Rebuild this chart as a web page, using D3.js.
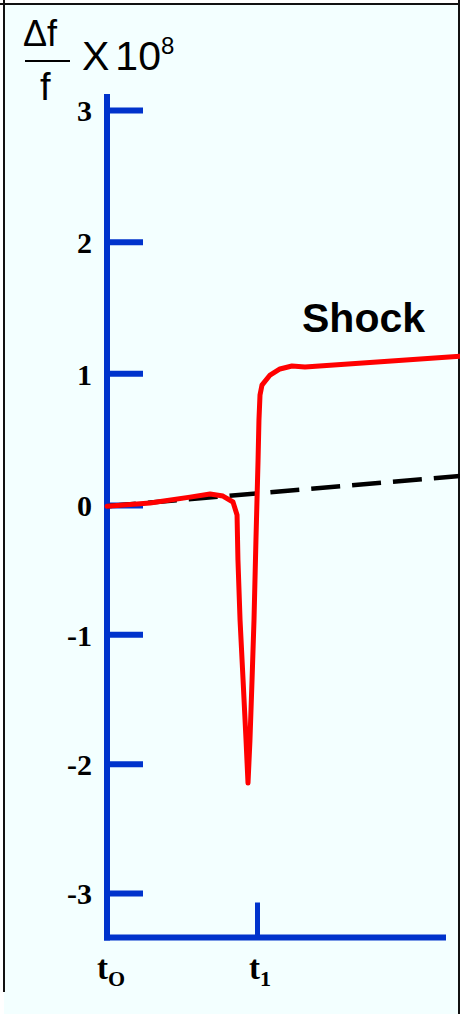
<!DOCTYPE html>
<html><head><meta charset="utf-8">
<script src="https://cdn.jsdelivr.net/npm/d3@7"></script>
<style>html,body{margin:0;padding:0;background:#fff;} svg{display:block}</style>
</head><body><svg id="c" width="460" height="1014"></svg>
<script>
// ---- data ----
const yTicks = [-3, -2, -1, 0, 1, 2, 3];
const xTicks = [0, 1];
const xTickMain = ["t", "t"];
const xTickSub = ["O", "1"];
const shockT = [0, 0.287, 0.553, 0.687, 0.773, 0.84, 0.867, 0.873, 0.887, 0.907, 0.927, 0.94, 0.953, 0.967, 0.98, 0.993, 1.007, 1.013, 1.02, 1.033, 1.087, 1.153, 1.233, 1.32, 2.353];
const shockV = [-0.01, 0.015, 0.06, 0.084, 0.068, 0.023, -0.077, -0.425, -0.89, -1.35, -1.82, -2.15, -1.82, -1.35, -0.89, -0.27, 0.34, 0.645, 0.835, 0.91, 0.987, 1.033, 1.056, 1.048, 1.13];
const driftT = [0, 2.353];
const driftV = [-0.01, 0.22];
const seriesLabel = "Shock";

// ---- layout ----
const W = 460, H = 1014;
const svg = d3.select("#c");
const blue = "#0033cc";

const x = d3.scaleLinear().domain([0, 1]).range([107, 257]);
const y = d3.scaleLinear().domain([-3, 0, 3]).range([893, 505, 110]);

// background + frame
svg.append("rect").attr("x", 0).attr("y", 0).attr("width", W).attr("height", H).attr("fill", "#ffffff");
svg.append("rect").attr("x", 4).attr("y", 4).attr("width", 455).attr("height", H).attr("fill", "#f3ffff");
svg.append("line").attr("x1", 0).attr("x2", W).attr("y1", 4).attr("y2", 4).attr("stroke", "#111").attr("stroke-width", 2);
svg.append("line").attr("x1", 4).attr("x2", 4).attr("y1", 0).attr("y2", 992).attr("stroke", "#111").attr("stroke-width", 2);
svg.append("line").attr("x1", 459).attr("x2", 459).attr("y1", 0).attr("y2", H).attr("stroke", "#111").attr("stroke-width", 2);

// y axis ticks (to the right)
const gyT = svg.append("g").attr("transform", `translate(${x(0)},0)`)
  .call(d3.axisRight(y).tickValues(yTicks).tickSize(36).tickSizeOuter(0).tickFormat(""));
gyT.select(".domain").remove();
gyT.selectAll(".tick line").attr("stroke", blue).attr("stroke-width", 6);

// y axis labels
const gyL = svg.append("g").attr("transform", `translate(${x(0) - 12},0)`)
  .call(d3.axisLeft(y).tickValues(yTicks).tickSize(0).tickFormat(d3.format("d")));
gyL.select(".domain").remove();
gyL.selectAll(".tick text").attr("font-family", "Liberation Serif, Times New Roman, serif")
  .attr("font-weight", "bold").attr("font-size", 30).attr("fill", "#000").attr("dy", "0.36em")
  .text(d => d < 0 ? "-" + Math.abs(d) : d);

// axis lines
svg.append("line").attr("x1", x(0)).attr("x2", x(0)).attr("y1", 94).attr("y2", 940.5)
  .attr("stroke", blue).attr("stroke-width", 6);
svg.append("line").attr("x1", x(0) - 3).attr("x2", 446).attr("y1", 937.5).attr("y2", 937.5)
  .attr("stroke", blue).attr("stroke-width", 6);

// x axis tick at t1
const gx = svg.append("g").attr("transform", `translate(0,937.5)`)
  .call(d3.axisBottom(x).tickValues([1]).tickSize(-35).tickSizeOuter(0).tickFormat(""));
gx.select(".domain").remove();
gx.selectAll(".tick line").attr("stroke", blue).attr("stroke-width", 5);

// x tick labels
xTicks.forEach((t, i) => {
  const tx = svg.append("text").attr("x", x(t) - 10 + (i === 1 ? 2 : 0)).attr("y", 979)
    .attr("font-family", "Liberation Serif, Times New Roman, serif").attr("font-weight", "bold")
    .attr("font-size", 33).attr("fill", "#000");
  tx.append("tspan").text(xTickMain[i]);
  tx.append("tspan").attr("dy", 7).attr("font-size", 22).text(xTickSub[i]);
});

// drift (dashed) line
const line = d3.line().x(d => x(d[0])).y(d => y(d[1]));
svg.append("path").datum(driftT.map((t, i) => [t, driftV[i]]))
  .attr("d", line).attr("fill", "none").attr("stroke", "#000").attr("stroke-width", 4.5)
  .attr("stroke-dasharray", "29,12");

// shock curve
svg.append("path").datum(shockT.map((t, i) => [t, shockV[i]]))
  .attr("d", line).attr("fill", "none").attr("stroke", "#ff0000").attr("stroke-width", 5)
  .attr("stroke-linejoin", "round").attr("stroke-linecap", "round");

// series label
svg.append("text").attr("x", 302).attr("y", 332).attr("font-family", "Liberation Sans, Arial, sans-serif")
  .attr("font-weight", "bold").attr("font-size", 41).attr("fill", "#000").text(seriesLabel);

// y axis title: Δf / f  X 10^8
const tf = "Liberation Sans, Arial, sans-serif";
svg.append("text").attr("x", 23).attr("y", 46).attr("font-family", tf).attr("font-size", 36).attr("fill", "#000").text("Δf");
svg.append("line").attr("x1", 25).attr("x2", 70).attr("y1", 61).attr("y2", 61).attr("stroke", "#000").attr("stroke-width", 2);
svg.append("text").attr("x", 40).attr("y", 100).attr("font-family", tf).attr("font-size", 38).attr("fill", "#000").text("f");
const xt = svg.append("text").attr("x", 82).attr("y", 70).attr("font-family", tf).attr("font-size", 41).attr("fill", "#000");
xt.append("tspan").text("X");
xt.append("tspan").attr("dx", 6).text("10");
xt.append("tspan").attr("dy", -16).attr("font-size", 24).text("8");
</script></body></html>
